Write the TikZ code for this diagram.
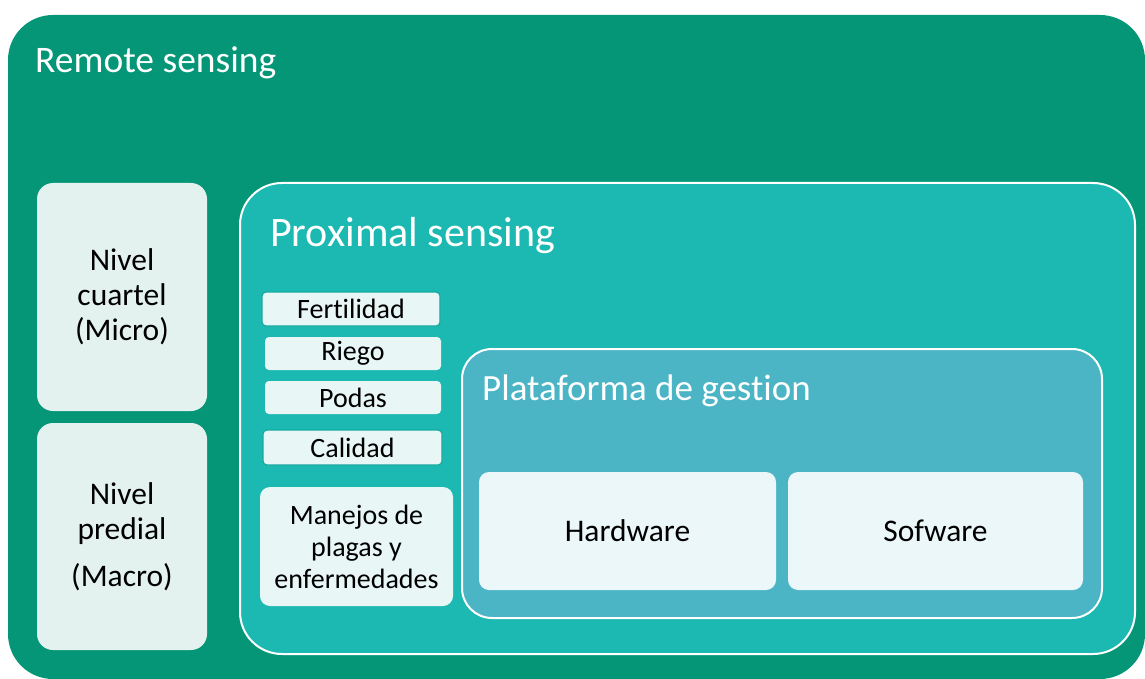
\documentclass[tikz,border=0pt]{standalone}
\usepackage{fontspec}
\setmainfont{Carlito}[Ligatures={NoCommon,NoContextual},Contextuals=NoAlternate]
\usepackage{tikz}
\usepackage{color}
\definecolor{remotegreen}{HTML}{049676}
\definecolor{proxteal}{HTML}{1CB9B2}
\definecolor{platblue}{HTML}{4BB4C5}
\definecolor{nivelfill}{HTML}{E3F2EF}
\definecolor{itemfill}{HTML}{E8F6F5}
\definecolor{hwfill}{HTML}{EBF7F8}
\definecolor{itemline}{HTML}{14AA9F}
\tikzset{
  title/.style={anchor=base west,text=white,inner sep=0pt},
  nivelbox/.style={fill=nivelfill,rounded corners=16pt,minimum width=170pt,minimum height=228pt,inner sep=0pt,align=center,font=\fontsize{31.5}{35}\selectfont},
  itembox/.style={fill=itemfill,rounded corners=4pt,minimum width=176pt,minimum height=33pt,inner sep=0pt,font=\fontsize{28}{32}\selectfont},
  hwbox/.style={fill=hwfill,rounded corners=10pt,minimum width=296pt,minimum height=118pt,inner sep=0pt,font=\fontsize{31.5}{35}\selectfont}
}

\begin{document}
\begin{tikzpicture}[x=1pt,y=-1pt]
\useasboundingbox (0,0) rectangle (1145,679);
% remote sensing
\fill[remotegreen,rounded corners=45pt] (8,15) rectangle (1145,679);
\node[title,font=\fontsize{37.5}{42}\selectfont] (remote) at (35,73) {Remote sensing};
\node[nivelbox] (cuartel) at (122,297) {Nivel\\cuartel\\(Micro)};
\node[nivelbox,minimum height=227pt] (predial) at (122,536.5) {Nivel\\predial\\[12pt](Macro)};
% proximal sensing
\draw[white,line width=2pt,fill=proxteal,rounded corners=42pt] (240,183) rectangle (1135,654);
\node[title,font=\fontsize{42}{46}\selectfont] (proximal) at (270,246) {Proximal sensing};
\node[itembox,draw=itemline,line width=1.2pt,minimum width=178pt,minimum height=34pt] (fert) at (351,309) {Fertilidad};
\node[itembox] (riego) at (353,353.5) {Riego};
\node[itembox] (podas) at (353,397.5) {Podas};
\node[itembox,draw=itemline,line width=1.2pt,minimum width=179pt,minimum height=35pt] (calidad) at (352.5,447.5) {Calidad};
\node[itembox,rounded corners=10pt,minimum width=193pt,minimum height=119pt,align=center] (plagas) at (356.5,546.5) {Manejos de\\plagas y\\enfermedades};
% plataforma
\draw[white,line width=2pt,fill=platblue,rounded corners=30pt] (462,349) rectangle (1102,618);
\node[title,font=\fontsize{37}{40}\selectfont] (plataforma) at (482,400) {Plataforma de gestion};
\node[hwbox,minimum width=297pt] (hardware) at (627.5,531) {Hardware};
\node[hwbox,minimum width=295pt] (sofware) at (935.5,531) {Sofware};
\end{tikzpicture}
\end{document}
